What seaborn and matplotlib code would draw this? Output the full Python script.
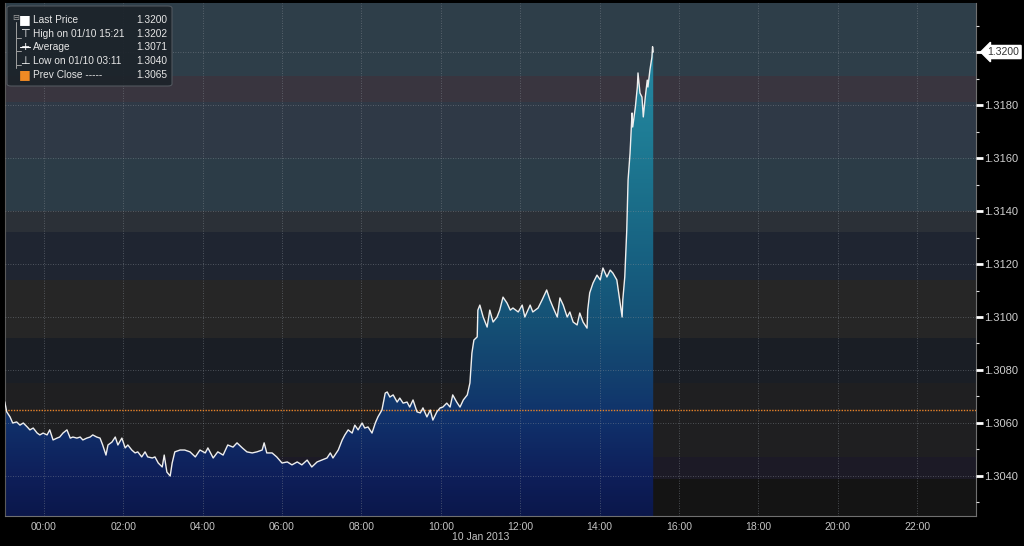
import numpy as np
import pandas as pd
import matplotlib
matplotlib.use("Agg")
import matplotlib.pyplot as plt
import seaborn as sns
from matplotlib import font_manager
from matplotlib.colors import LinearSegmentedColormap
from matplotlib.patches import FancyBboxPatch
from matplotlib.lines import Line2D
from matplotlib.transforms import blended_transform_factory

# ---------------- data ----------------
# minutes relative to 00:00 on 10 Jan 2013 (negative = evening of 9 Jan)
minutes = [-59, -56, -51, -47, -41, -36, -31, -25, -21, -16, -10, -6, -1, 5, 9, 14, 20, 24, 29, 35,
           40, 44, 50, 55, 59, 65, 70, 74, 80, 85, 89, 94, 97, 103, 108, 112, 118, 123, 127, 133,
           138, 142, 148, 153, 157, 164, 168, 173, 179, 182, 186, 191, 194, 198, 206, 213, 221, 229, 236, 244,
           248, 256, 263, 271, 278, 286, 292, 300, 307, 315, 322, 330, 333, 337, 345, 352, 360, 368, 375, 383,
           390, 398, 405, 413, 420, 428, 433, 437, 445, 451, 455, 460, 466, 470, 475, 481, 485, 490, 496, 501,
           505, 511, 516, 519, 523, 528, 534, 538, 543, 549, 553, 558, 564, 569, 573, 579, 584, 588, 594, 599,
           603, 609, 614, 618, 624, 629, 634, 640, 644, 647, 650, 655, 656, 659, 664, 670, 674, 679, 685, 689,
           694, 700, 705, 709, 717, 723, 727, 735, 739, 747, 753, 760, 765, 770, 776, 780, 785, 791, 795, 800,
           806, 810, 815, 821, 822, 825, 830, 836, 841, 845, 851, 856, 860, 866, 871, 874, 875, 878, 881, 883,
           886, 889, 890, 894, 897, 898, 901, 904, 906, 909, 912, 913, 916, 919, 920, 921]
prices = [1.30680, 1.30642, 1.30623, 1.30600, 1.30604, 1.30592, 1.30600, 1.30585, 1.30574, 1.30581,
          1.30562, 1.30555, 1.30562, 1.30555, 1.30574, 1.30536, 1.30543, 1.30547, 1.30562, 1.30574,
          1.30543, 1.30547, 1.30543, 1.30547, 1.30536, 1.30543, 1.30547, 1.30555, 1.30547, 1.30543,
          1.30517, 1.30479, 1.30517, 1.30528, 1.30547, 1.30517, 1.30543, 1.30506, 1.30517, 1.30498,
          1.30487, 1.30491, 1.30472, 1.30491, 1.30472, 1.30468, 1.30472, 1.30449, 1.30434, 1.30479,
          1.30415, 1.30400, 1.30449, 1.30491, 1.30498, 1.30498, 1.30491, 1.30472, 1.30498, 1.30487,
          1.30506, 1.30468, 1.30491, 1.30479, 1.30517, 1.30509, 1.30525, 1.30506, 1.30491, 1.30487,
          1.30491, 1.30498, 1.30525, 1.30487, 1.30487, 1.30472, 1.30449, 1.30453, 1.30442, 1.30453,
          1.30442, 1.30460, 1.30434, 1.30453, 1.30460, 1.30468, 1.30487, 1.30468, 1.30498, 1.30536,
          1.30555, 1.30574, 1.30562, 1.30592, 1.30574, 1.30600, 1.30581, 1.30585, 1.30562, 1.30600,
          1.30623, 1.30649, 1.30713, 1.30717, 1.30698, 1.30706, 1.30679, 1.30694, 1.30675, 1.30679,
          1.30660, 1.30687, 1.30642, 1.30638, 1.30657, 1.30623, 1.30649, 1.30611, 1.30642, 1.30657,
          1.30660, 1.30675, 1.30660, 1.30706, 1.30679, 1.30660, 1.30687, 1.30706, 1.30751, 1.30864,
          1.30913, 1.30925, 1.31026, 1.31045, 1.31000, 1.30962, 1.31026, 1.30981, 1.31000, 1.31026,
          1.31075, 1.31053, 1.31026, 1.31034, 1.31019, 1.31045, 1.31000, 1.31045, 1.31019, 1.31034,
          1.31064, 1.31102, 1.31064, 1.31034, 1.31000, 1.31072, 1.31045, 1.31000, 1.31019, 1.30981,
          1.30970, 1.31015, 1.30981, 1.30958, 1.31026, 1.31091, 1.31128, 1.31158, 1.31140, 1.31185,
          1.31151, 1.31177, 1.31166, 1.31140, 1.31053, 1.31000, 1.31064, 1.31151, 1.31328, 1.31517,
          1.31619, 1.31770, 1.31717, 1.31792, 1.31868, 1.31921, 1.31845, 1.31830, 1.31755, 1.31830,
          1.31894, 1.31868, 1.31932, 1.31980, 1.32020, 1.32000]

prev_close = 1.3065
last_price_label = "1.3200"
legend_labels = ["Last Price", "High on 01/10 15:21", "Average", "Low on 01/10 03:11", "Prev Close -----"]
legend_values = ["1.3200", "1.3202", "1.3071", "1.3040", "1.3065"]

x_tick_hours = [0, 2, 4, 6, 8, 10, 12, 14, 16, 18, 20, 22]
x_tick_labels = ["00:00", "02:00", "04:00", "06:00", "08:00", "10:00", "12:00",
                 "14:00", "16:00", "18:00", "20:00", "22:00"]
y_ticks = [1.3040, 1.3060, 1.3080, 1.3100, 1.3120, 1.3140, 1.3160, 1.3180, 1.3200]
y_tick_labels = ["1.3040", "1.3060", "1.3080", "1.3100", "1.3120", "1.3140", "1.3160", "1.3180", ""]
date_label = "10 Jan 2013"

# background horizontal bands (price edges) and their colours
band_edges = [1.3020, 1.3039, 1.3047, 1.3075, 1.3092, 1.3114, 1.3132, 1.3140, 1.3160, 1.3181, 1.3191, 1.3225]
band_colors = ["#141414", "#1c1a26", "#1f1f21", "#1a1e25", "#262626", "#1f2531",
               "#2b3037", "#2c3c47", "#2f3946", "#39353f", "#2e3e49"]

# fill gradient: price level -> colour
fill_levels = [1.3025, 1.3040, 1.3060, 1.3080, 1.3100, 1.3120, 1.3140, 1.3170, 1.3219]
fill_colors = ["#0b174b", "#0e1f5a", "#10306a", "#13426f", "#155276", "#175f80",
               "#1a6c88", "#1f7d96", "#2a8ca8"]

x_limits = (-0.977, 23.48)
y_limits = (1.30249, 1.32185)

# ---------------- style ----------------
sns.set_style("dark")
available = {f.name for f in font_manager.fontManager.ttflist}
main_font = "Liberation Sans Narrow" if "Liberation Sans Narrow" in available else "Liberation Sans"
plt.rcParams["font.family"] = [main_font, "DejaVu Sans"]

W, H = 1024, 546
fig = plt.figure(figsize=(W / 100, H / 100), dpi=100, facecolor="black")
ax = fig.add_axes([5 / W, 1 - 516 / H, 971 / W, 513 / H])
ax.set_facecolor("#141414")

df = pd.DataFrame({"hour": np.array(minutes) / 60.0, "price": prices})

# bands
for lo, hi, c in zip(band_edges[:-1], band_edges[1:], band_colors):
    ax.axhspan(lo, hi, color=c, lw=0, zorder=0)

# gradient fill under the price line
pos = [(v - y_limits[0]) / (y_limits[1] - y_limits[0]) for v in fill_levels]
pos = [min(max(p, 0.0), 1.0) for p in pos]
pos[0], pos[-1] = 0.0, 1.0
cmap = LinearSegmentedColormap.from_list("fill", list(zip(pos, fill_colors)))
grad = np.linspace(0, 1, 512).reshape(-1, 1)
im = ax.imshow(grad, extent=[x_limits[0], x_limits[1], y_limits[0], y_limits[1]],
               origin="lower", aspect="auto", cmap=cmap, zorder=1)
poly = ax.fill_between(df["hour"], df["price"], y_limits[0], facecolor="none", edgecolor="none")
im.set_clip_path(poly.get_paths()[0], transform=ax.transData)

# price line
sns.lineplot(data=df, x="hour", y="price", ax=ax, color="#eeeeee", linewidth=1.0, zorder=4)

# previous close
ax.axhline(prev_close, color="#e8832a", linestyle=(0, (1, 1)), linewidth=1.0, zorder=3)

ax.set_xlim(*x_limits)
ax.set_ylim(*y_limits)
ax.set_xlabel("")
ax.set_ylabel("")

# ticks and grid
ax.set_xticks(x_tick_hours)
ax.set_xticklabels(x_tick_labels)
ax.set_xticks(np.arange(0, 24, 1), minor=True)
ax.yaxis.tick_right()
ax.set_yticks(y_ticks)
ax.set_yticklabels(y_tick_labels)
ax.set_yticks(np.arange(1.3030, 1.3215, 0.0010), minor=True)
ax.grid(True, which="major", color="#8a9098", linestyle=(0, (1, 2)), linewidth=0.6, alpha=0.6)
ax.grid(False, which="minor")
ax.set_axisbelow(False)

ax.tick_params(axis="x", which="major", length=3, width=0.8, color="#9a9a9a",
               labelsize=7.5, labelcolor="#c4c4c4", pad=1.5, direction="out")
ax.tick_params(axis="x", which="minor", length=2, width=0.8, color="#9a9a9a", direction="out")
ax.tick_params(axis="y", which="major", length=5, width=2, color="white",
               labelsize=8, labelcolor="#cfcfcf", pad=1, direction="out",
               right=True, left=False)
ax.tick_params(axis="y", which="minor", length=2, width=0.8, color="#dddddd",
               direction="out", right=True, left=False)

for side, col in [("left", "#5a5a5a"), ("bottom", "#707070"), ("right", "#707070")]:
    ax.spines[side].set_visible(True)
    ax.spines[side].set_color(col)
    ax.spines[side].set_linewidth(0.8)
ax.spines["top"].set_visible(False)

# date label
tr = blended_transform_factory(ax.transData, ax.transAxes)
ax.text(11.0, -0.041, date_label, transform=tr, ha="center", va="center",
        fontsize=7.5, color="#c4c4c4", clip_on=False)

# last price flag
tr2 = blended_transform_factory(ax.transAxes, ax.transData)
ax.text(1.012, y_ticks[-1], last_price_label, transform=tr2, ha="left", va="center",
        fontsize=7.5, color="#333333", clip_on=False, zorder=6,
        bbox=dict(boxstyle="larrow,pad=0.15", fc="white", ec="white"))

# legend box (terminal style)
def fx(px):
    return px / W

def fy(py):
    return 1 - py / H

box = FancyBboxPatch((fx(7), fy(86)), fx(172) - fx(7), fy(6) - fy(86),
                     boxstyle="round,pad=0,rounding_size=0.004", transform=fig.transFigure,
                     fc="#1c232a", ec="#555b62", lw=0.8, alpha=0.92, zorder=10)
fig.patches.append(box)

rows_y = [20, 34, 47, 61, 75]
icons = ["■", "⊤", "+", "⊥", "■"]
icon_colors = ["white", "white", "white", "white", "#f08a24"]
icon_sizes = [9, 8, 8, 8, 9]
for yy, lab, val, ic, icc, isz in zip(rows_y, legend_labels, legend_values, icons, icon_colors, icon_sizes):
    fig.text(fx(33), fy(yy), lab, ha="left", va="center", fontsize=7.3, color="#e6e6e6", zorder=11)
    fig.text(fx(167), fy(yy), val, ha="right", va="center", fontsize=7.3, color="#e6e6e6", zorder=11)
    fig.text(fx(25), fy(yy), ic, ha="center", va="center", fontsize=isz, color=icc,
             zorder=11, family="DejaVu Sans")

# bracket on the left of the legend
fig.lines.append(Line2D([fx(16), fx(16)], [fy(22), fy(68)], transform=fig.transFigure,
                        color="#a0a0a0", lw=0.7, zorder=11))
for yy in rows_y[1:4]:
    fig.lines.append(Line2D([fx(16), fx(21)], [fy(yy + 4), fy(yy + 4)], transform=fig.transFigure,
                            color="#a0a0a0", lw=0.7, zorder=11))
fig.lines.append(Line2D([fx(20), fx(30)], [fy(47), fy(47)], transform=fig.transFigure,
                        color="white", lw=0.8, zorder=11))
fig.text(fx(16), fy(18), "⊟", ha="center", va="center", fontsize=6, color="#a0a0a0",
         zorder=11, family="DejaVu Sans")

fig.savefig("out.png", dpi=100, facecolor="black")
